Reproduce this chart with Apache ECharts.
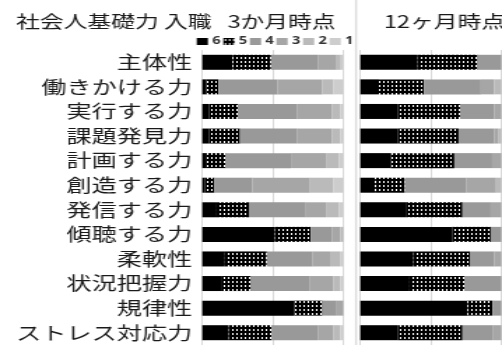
<!DOCTYPE html>
<html><head><meta charset="utf-8">
<script src="https://cdn.jsdelivr.net/npm/echarts@6/dist/echarts.min.js"></script>
<style>
html,body{margin:0;padding:0;background:#fff;overflow:hidden;}
#wrap{width:502px;height:345px;overflow:hidden;position:relative;}
#chart{width:359px;height:345px;transform:scaleX(1.39833);transform-origin:0 0;}
</style></head><body>
<div id="wrap"><div id="chart"></div></div>
<script>
// ---- data ----
const categories = ['主体性','働きかける力','実行する力','課題発見力','計画する力','創造する力','発信する力','傾聴する力','柔軟性','状況把握力','規律性','ストレス対応力'];
const levelNames = ['6','5','4','3','2','1'];
const panelTitles = ['社会人基礎力 入職   3か月時点','12ヶ月時点'];
const xTicks = [0, 50, 100];

// 3 months (%)
const m3_6 = [21.5, 2.6, 4.8, 4.8, 2.4, 1.9, 10.2, 51.6, 16.1, 13.3, 65.2, 18.9];
const m3_5 = [27.2, 8.8, 20.3, 21.9, 14.2, 6.6, 22.9, 25.3, 29.6, 21.2, 19.9, 30.3];
const m3_4 = [33.6, 42.1, 42.3, 40.7, 46.3, 27.0, 39.7, 14.9, 32.6, 41.9, 9.5, 33.1];
const m3_3 = [13.0, 31.6, 24.4, 24.4, 24.8, 40.9, 14.9, 6.0, 12.3, 16.5, 5.4, 10.6];
const m3_2 = [3.0, 7.8, 6.0, 6.0, 9.0, 16.5, 9.0, 2.2, 7.0, 5.0, 0, 5.0];
const m3_1 = [1.7, 7.1, 2.2, 2.2, 3.3, 7.1, 3.3, 0, 2.4, 2.1, 0, 2.1];

// 12 months (%)
const m12_6 = [40.8, 13.2, 26.8, 26.8, 21.4, 10.4, 32.2, 65.1, 37.8, 35.0, 76.1, 26.8];
const m12_5 = [42.3, 31.9, 43.9, 42.9, 45.3, 21.1, 40.3, 27.4, 39.9, 38.7, 17.6, 45.7];
const m12_4 = [16.9, 40.4, 24.2, 25.2, 26.8, 43.4, 20.0, 7.5, 17.2, 26.3, 6.3, 21.2];
const m12_3 = [0, 9.4, 5.1, 2.8, 6.5, 21.4, 7.5, 0, 5.1, 0, 0, 6.3];
const m12_2 = [0, 5.1, 0, 2.3, 0, 3.7, 0, 0, 0, 0, 0, 0];
const m12_1 = [0, 0, 0, 0, 0, 0, 0, 0, 0, 0, 0, 0];

// ---- chart ----
const S = 502 / 359;           // horizontal stretch applied by CSS
const X = v => v / S;           // convert final pixel x to chart x

function makePattern(){
  const c = document.createElement('canvas');
  c.width = 3; c.height = 4;
  const g = c.getContext('2d');
  g.fillStyle = '#000'; g.fillRect(0,0,3,4);
  g.fillStyle = '#fff'; g.fillRect(1,1,1,2);
  return c;
}
const pat = makePattern();
const fills = ['#000000', {image: pat, repeat: 'repeat'}, '#999999', '#a6a6a6', '#bababa', '#cdcdcd'];
const left = [m3_6, m3_5, m3_4, m3_3, m3_2, m3_1];
const right = [m12_6, m12_5, m12_4, m12_3, m12_2, m12_1];

const font = '"Noto Sans CJK JP", "Noto Sans", sans-serif';
const series = [];
[left, right].forEach((panel, pi) => {
  panel.forEach((arr, i) => {
    series.push({
      type: 'bar', name: levelNames[i], stack: 'p' + pi,
      xAxisIndex: pi, yAxisIndex: pi, barWidth: 15,
      data: arr, itemStyle: {color: fills[i]},
      emphasis: {disabled: true}, silent: true
    });
  });
});

const xAxisBase = pi => ({
  type: 'value', gridIndex: pi, min: xTicks[0], max: xTicks[xTicks.length-1],
  interval: xTicks[1] - xTicks[0],
  axisLabel: {show: false}, axisLine: {show: false}, axisTick: {show: false},
  splitLine: {show: true, showMinLine: true, showMaxLine: true, lineStyle: {color: '#d9d9d9', width: 1}}
});

const chart = echarts.init(document.getElementById('chart'), null, {renderer: 'canvas'});
chart.setOption({
  animation: false,
  backgroundColor: '#ffffff',
  title: [
    {text: panelTitles[0], left: X(9), top: 8, textStyle: {fontSize: 17, fontWeight: 'normal', color: '#1a1a1a', fontFamily: font}},
    {text: panelTitles[1], left: X(376.7), top: 8, textStyle: {fontSize: 17, fontWeight: 'normal', color: '#1a1a1a', fontFamily: font}}
  ],
  legend: {
    data: levelNames, left: X(196.7), top: 36, padding: 0,
    itemWidth: 8, itemHeight: 7, itemGap: 2, icon: 'rect',
    textStyle: {fontSize: 10.5, fontWeight: 'bold', color: '#333', fontFamily: '"Noto Sans", sans-serif', padding: [0, 0, 0, -2]},
    selectedMode: false
  },
  grid: [
    {left: X(202.3), width: X(141), top: 50, height: 297.6},
    {left: X(360.3), width: X(141), top: 50, height: 297.6}
  ],
  xAxis: [xAxisBase(0), xAxisBase(1)],
  yAxis: [0, 1].map(pi => ({
    type: 'category', gridIndex: pi, data: categories, inverse: true,
    axisLine: {show: false}, axisTick: {show: false},
    axisLabel: pi === 0 ? {show: true, fontSize: 18, color: '#1a1a1a', margin: X(10), fontFamily: font} : {show: false}
  })),
  graphic: [
    {type: 'rect', shape: {x: X(355), y: 0, width: X(2), height: 345}, style: {fill: '#dcdcdc'}, silent: true}
  ],
  series: series
});
</script>
</body></html>
